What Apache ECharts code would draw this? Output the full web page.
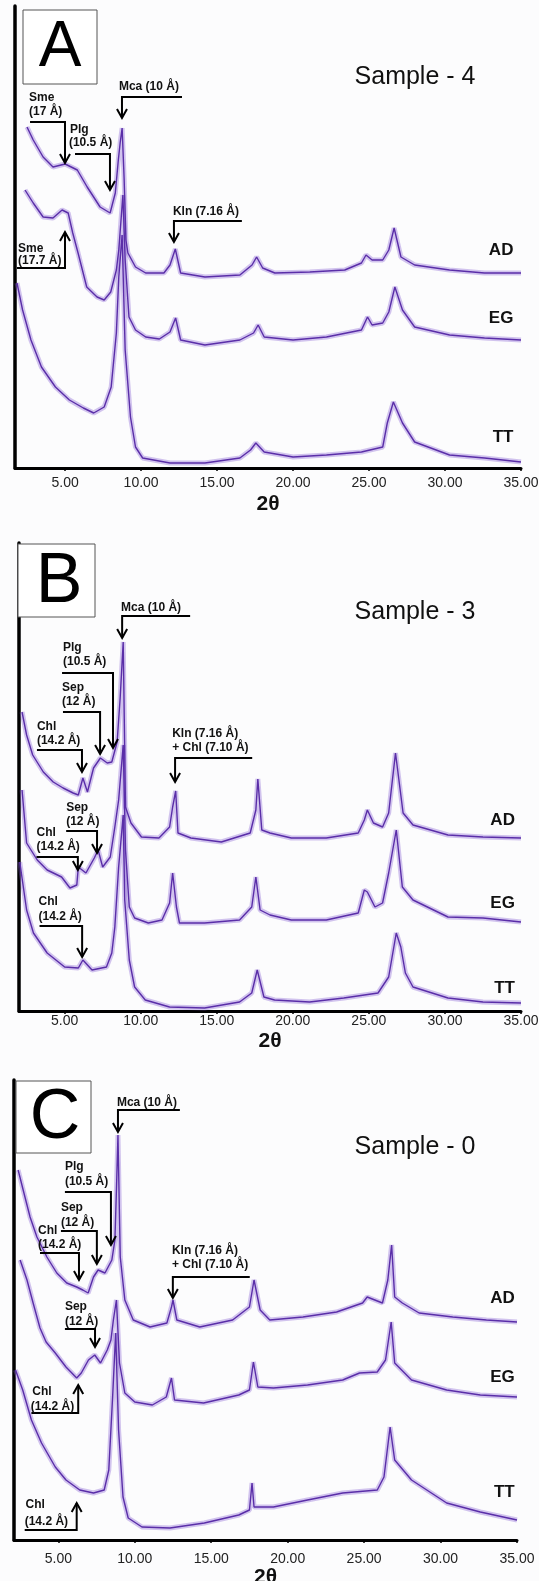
<!DOCTYPE html>
<html><head><meta charset="utf-8">
<script src="https://cdn.jsdelivr.net/npm/echarts@6/dist/echarts.min.js"></script>
<style>html,body{margin:0;padding:0;background:#fcfcfd}#c{width:539px;height:1581px}</style>
</head><body><div id="c"></div>
<script>
// ---- tick labels (2θ) ----
const xTicks = [5, 10, 15, 20, 25, 30, 35];

// ---- Panel A (Sample - 4): [2θ, intensity] ----
const A_AD = [[2.49,341],[2.9,328],[3.55,311],[4.2,301],[5.0,304],[5.8,298],[6.45,281],[7.3,261],[7.96,255],[8.3,275],[8.5,308],[8.62,325],[8.75,340],[8.88,290],[9.0,228],[9.13,215],[9.63,201],[10.3,195],[11.5,195],[11.9,203],[12.25,219],[12.6,195],[14.2,191],[16.5,193],[17.3,203],[17.6,211],[18.0,200],[18.8,195],[21.1,196],[23.4,198],[24.5,205],[24.8,213],[25.2,208],[25.9,208],[26.3,218],[26.65,240],[27.1,211],[28,203],[30.3,198],[32.6,195],[35,195]];
const A_EG = [[2.36,278],[2.9,265],[3.55,251],[4.2,250],[4.8,258],[5.2,255],[5.5,235],[5.85,215],[6.42,181],[7.1,171],[7.57,168],[8.0,176],[8.37,198],[8.53,218],[8.8,273],[8.95,208],[9.2,151],[9.63,138],[10.3,131],[11.2,129],[11.9,136],[12.27,150],[12.6,128],[14.2,123],[16.5,128],[17.4,135],[17.7,143],[18.1,131],[20,128],[22.2,131],[24.5,138],[24.9,151],[25.2,143],[25.9,145],[26.3,156],[26.7,181],[27.2,158],[28,141],[30.3,133],[32.6,130],[35,128]];
const A_TT = [[1.83,185],[2.2,158],[2.75,128],[3.44,101],[4.36,81],[5.28,68],[6.2,60],[6.88,55],[7.57,61],[8.03,81],[8.37,135],[8.53,191],[8.75,233],[8.95,118],[9.3,51],[9.63,21],[10.1,10],[11.9,5],[14.2,5],[16.5,10],[17.2,18],[17.55,25],[18.1,16],[20,11],[22.2,13],[24.5,16],[25.9,21],[26.2,45],[26.6,66],[27.2,45],[28,26],[30.3,13],[32.6,10],[35,6]];

// ---- Panel B (Sample - 3) ----
const B_AD = [[2.2,299],[2.5,276],[2.9,256],[3.6,239],[4.25,229],[4.9,223],[5.56,218],[5.9,216],[6.2,233],[6.5,219],[6.9,243],[7.35,253],[7.8,248],[8.1,249],[8.45,269],[8.65,313],[8.85,369],[9.0,204],[9.36,188],[10.05,174],[11.2,173],[11.9,184],[12.1,204],[12.3,220],[12.45,178],[13.3,173],[15.3,169],[17.2,178],[17.57,201],[17.7,232],[17.96,181],[18.5,178],[19.9,173],[22.2,173],[24.3,178],[24.7,191],[24.9,201],[25.3,188],[25.9,184],[26.3,198],[26.75,258],[27.25,198],[27.9,186],[30.2,176],[32.5,174],[35,173]];
const B_EG = [[2.2,221],[2.5,168],[3.2,151],[3.85,141],[4.8,134],[5.35,123],[5.8,126],[5.9,144],[6.4,138],[6.95,153],[7.2,161],[7.5,144],[8.0,154],[8.3,184],[8.55,211],[8.85,266],[9.0,161],[9.25,104],[9.6,93],[10.5,88],[11.4,91],[11.9,108],[12.1,138],[12.35,104],[12.55,88],[14.2,88],[16.5,91],[17.3,104],[17.57,134],[17.85,101],[18.5,96],[19.9,91],[22.2,91],[24.3,98],[24.7,121],[24.9,119],[25.4,104],[25.9,108],[26.3,138],[26.8,181],[27.2,124],[27.9,111],[30.2,94],[32.5,93],[35,89]];
const B_TT = [[2.05,149],[2.5,101],[2.95,78],[3.85,58],[5.0,44],[5.9,43],[6.2,51],[6.8,41],[7.75,44],[8.1,58],[8.3,84],[8.55,144],[8.85,196],[8.95,111],[9.25,51],[9.6,24],[10.3,11],[11.9,4],[14.2,3],[16.5,9],[17.3,18],[17.66,41],[18.1,14],[18.8,11],[21.1,9],[23.35,13],[25.6,18],[26.3,34],[26.8,78],[27.1,64],[27.4,38],[27.9,24],[30.2,13],[32.5,9],[35,8]];

// ---- Panel C (Sample - 0) ----
const C_AD = [[2.37,370],[2.7,350],[3.15,323],[3.6,303],[4.25,283],[4.9,267],[5.55,257],[6.2,253],[6.6,250],[6.95,247],[7.3,263],[7.6,270],[8.05,267],[8.5,280],[8.7,300],[8.8,350],[8.9,405],[9.05,283],[9.35,240],[9.9,220],[11.0,213],[12.1,217],[12.4,233],[12.5,240],[12.75,220],[14.25,213],[16.4,220],[17.5,233],[17.8,260],[18.2,230],[18.83,220],[21,223],[23.2,228],[24.9,237],[25.2,243],[26.2,237],[26.55,260],[26.8,295],[27.0,243],[27.5,237],[28.6,227],[30.8,223],[33,220],[35,218]];
const C_EG = [[2.5,280],[2.95,260],[3.35,237],[3.8,212],[4.2,198],[4.8,187],[5.5,173],[6.2,162],[6.5,167],[6.97,180],[7.38,185],[7.76,177],[8.2,190],[8.44,200],[8.6,220],[8.8,240],[9.0,177],[9.35,147],[10.0,138],[11.15,135],[12.06,143],[12.4,162],[12.6,140],[14.5,137],[16.8,145],[17.5,150],[17.76,178],[18.05,153],[19.07,152],[21.3,155],[23.6,160],[24.7,167],[25.86,168],[26.4,180],[26.77,218],[27.0,177],[28.1,160],[30.4,150],[32.6,145],[35,143]];
const C_TT = [[2.2,170],[2.67,150],[3.24,120],[3.9,97],[4.8,73],[5.5,60],[6.4,50],[7.3,47],[8.0,50],[8.3,70],[8.55,143],[8.75,207],[8.94,110],[9.23,43],[9.57,22],[10.47,13],[12.3,12],[14.55,17],[16.8,25],[17.5,30],[17.67,57],[17.8,33],[19.07,33],[21.3,40],[23.6,47],[25.86,50],[26.3,63],[26.7,113],[27.0,80],[28.1,60],[30.4,37],[32.6,28],[35,20]];

// ---- trace names ----
const traceNames = ['AD', 'EG', 'TT'];
const A_tags = [[34.5,218],[34.5,150],[34.5,31]];
const B_tags = [[34.6,191],[34.6,108],[34.6,23]];
const C_tags = [[34.85,242],[34.85,163],[34.85,48]];

// ---- annotations: text lines, text anchors and arrow path [2θ, intensity] ----
const A_notes = [
  {lines:['Mca (10 Å)'], at:[[8.54,381]], path:[[12.69,371],[8.74,371],[8.74,350]]},
  {lines:['Sme','(17 Å)'], at:[[2.62,370],[2.62,356]], path:[[2.69,346],[4.99,346],[4.99,305]]},
  {lines:['Plg','(10.5 Å)'], at:[[5.32,338],[5.25,325]], path:[[5.65,314],[7.95,314],[7.95,278]]},
  {lines:['Kln (7.16 Å)'], at:[[12.09,256]], path:[[16.63,247],[12.16,247],[12.16,226]]},
  {lines:['Sme','(17.7 Å)'], at:[[1.9,219],[1.9,207]], path:[[1.83,200],[4.99,200],[4.99,236]]}
];
const B_notes = [
  {lines:['Mca (10 Å)'], at:[[8.71,403]], path:[[13.25,395],[8.78,395],[8.78,373]]},
  {lines:['Plg','(10.5 Å)'], at:[[4.89,363],[4.89,349]], path:[[4.83,338],[8.18,338],[8.18,263]]},
  {lines:['Sep','(12 Å)'], at:[[4.83,323],[4.83,309]], path:[[4.89,299],[7.33,299],[7.33,257]]},
  {lines:['Chl','(14.2 Å)'], at:[[3.18,284],[3.18,270]], path:[[3.18,261],[6.14,261],[6.14,239]]},
  {lines:['Kln (7.16 Å)','+ Chl (7.10 Å)'], at:[[12.07,277],[12.07,263]], path:[[17.33,253],[12.26,253],[12.26,229]]},
  {lines:['Sep','(12 Å)'], at:[[5.1,203],[5.1,189]], path:[[5.1,180],[7.13,180],[7.13,158]]},
  {lines:['Chl','(14.2 Å)'], at:[[3.15,178],[3.15,164]], path:[[3.15,154],[5.87,154],[5.87,141]]},
  {lines:['Chl','(14.2 Å)'], at:[[3.28,109],[3.28,94]], path:[[3.35,85],[6.15,85],[6.15,54]]}
];
const C_notes = [
  {lines:['Mca (10 Å)'], at:[[8.83,437]], path:[[12.95,430],[8.9,430],[8.9,408]]},
  {lines:['Plg','(10.5 Å)'], at:[[5.43,373],[5.43,358]], path:[[5.43,348],[8.44,348],[8.44,295]]},
  {lines:['Sep','(12 Å)'], at:[[5.17,332],[5.17,317]], path:[[5.17,309],[7.52,309],[7.52,276]]},
  {lines:['Chl','(14.2 Å)'], at:[[3.67,309],[3.67,295]], path:[[3.8,287],[6.35,287],[6.35,260]]},
  {lines:['Kln (7.16 Å)','+ Chl (7.10 Å)'], at:[[12.43,289],[12.43,275]], path:[[17.52,263],[12.49,263],[12.49,242]]},
  {lines:['Sep','(12 Å)'], at:[[5.43,233],[5.43,218]], path:[[5.43,211],[7.4,211],[7.4,193]]},
  {lines:['Chl','(14.2 Å)'], at:[[3.3,148],[3.2,133]], path:[[3.24,127],[6.3,127],[6.3,155]]},
  {lines:['Chl','(14.2 Å)'], at:[[2.85,35],[2.8,18]], path:[[2.8,10],[6.2,10],[6.2,37]]}
];

const FONT = '"Liberation Sans", Arial, sans-serif';
const TRACE = '#5a2ea8';

const panels = [
  {grid:{left:15, right:18, top:6, height:462}, xmin:1.7, ymax:462, gap:26, lmargin:8, traces:[A_AD,A_EG,A_TT], tags:A_tags, notes:A_notes},
  {grid:{left:19, right:18, top:543, height:468}, xmin:2.0, ymax:468, gap:20, lmargin:3, traces:[B_AD,B_EG,B_TT], tags:B_tags, notes:B_notes},
  {grid:{left:14, right:22, top:1080, height:460}, xmin:2.1, ymax:460, gap:27, lmargin:12, traces:[C_AD,C_EG,C_TT], tags:C_tags, notes:C_notes}
];

const grids = [], xAxes = [], yAxes = [], series = [];
panels.forEach((p, i) => {
  grids.push(Object.assign({containLabel:false, outerBoundsMode:'none'}, p.grid));
  xAxes.push({
    type:'value', gridIndex:i, min:p.xmin, max:35,
    name:'2θ', nameLocation:'middle', nameGap:p.gap,
    nameTextStyle:{fontFamily:FONT, fontWeight:'bold', fontSize:21, color:'#111'},
    axisLine:{show:true, onZero:false, lineStyle:{color:'#000', width:3}},
    axisTick:{show:true, customValues:xTicks, length:3, lineStyle:{color:'#000', width:1.5}},
    axisLabel:{customValues:xTicks, margin:p.lmargin, fontFamily:FONT, fontSize:14, color:'#222', formatter:v => v.toFixed(2)},
    splitLine:{show:false}
  });
  yAxes.push({
    type:'value', gridIndex:i, min:0, max:p.ymax,
    axisLine:{show:true, onZero:false, lineStyle:{color:'#000', width:3.5}},
    axisTick:{show:false}, axisLabel:{show:false}, splitLine:{show:false}
  });
  p.traces.forEach((d, k) => {
    series.push({
      type:'line', xAxisIndex:i, yAxisIndex:i, data:d,
      showSymbol:false, silent:true, clip:false, z:1,
      lineStyle:{color:'rgba(130,90,210,0.35)', width:5}
    });
    series.push({
      type:'line', name:traceNames[k], xAxisIndex:i, yAxisIndex:i, data:d,
      showSymbol:false, silent:true, clip:false, z:2,
      lineStyle:{color:TRACE, width:1.4}
    });
  });
  series.push({
    type:'custom', xAxisIndex:i, yAxisIndex:i, silent:true, clip:false, z:5,
    data:p.tags.map(t => [t[0], t[1]]),
    renderItem:function(params, api){
      const c = api.coord([api.value(0), api.value(1)]);
      return {type:'text', x:c[0], y:c[1], style:{text:traceNames[params.dataIndex], font:'bold 17px ' + FONT, fill:'#111', align:'right', verticalAlign:'middle'}};
    }
  });
  const notes = p.notes;
  series.push({
    type:'custom', xAxisIndex:i, yAxisIndex:i, silent:true, clip:false, z:6,
    data:notes.map(n => n.path[n.path.length-1]),
    renderItem:function(params, api){
      const n = notes[params.dataIndex];
      const pts = n.path.map(q => api.coord(q));
      const tip = pts[pts.length-1], prev = pts[pts.length-2];
      const dir = tip[1] > prev[1] ? 1 : -1;
      const ch = [
        {type:'polyline', shape:{points:pts}, style:{stroke:'#000', lineWidth:2, fill:null}},
        {type:'polyline', shape:{points:[[tip[0]-5, tip[1]-9*dir],[tip[0], tip[1]],[tip[0]+5, tip[1]-9*dir]]}, style:{stroke:'#000', lineWidth:2, fill:null}}
      ];
      n.lines.forEach((t, j) => {
        const c = api.coord(n.at[j]);
        ch.push({type:'text', x:c[0], y:c[1], style:{text:t, font:'bold 12px ' + FONT, fill:'#111', align:'left', verticalAlign:'middle'}});
      });
      return {type:'group', children:ch};
    }
  });
});

const graphic = [
  {type:'rect', shape:{x:23, y:10, width:74, height:74}, style:{fill:'#fff', stroke:'#555', lineWidth:1}, z:1},
  {type:'text', x:60, y:48, style:{text:'A', font:'64px ' + FONT, fill:'#000', align:'center', verticalAlign:'middle'}, z:2},
  {type:'rect', shape:{x:18, y:544, width:77, height:73}, style:{fill:'#fff', stroke:'#555', lineWidth:1}, z:1},
  {type:'text', x:59, y:583, style:{text:'B', font:'70px ' + FONT, fill:'#000', align:'center', verticalAlign:'middle'}, z:2},
  {type:'rect', shape:{x:16, y:1081, width:75, height:72}, style:{fill:'#fff', stroke:'#555', lineWidth:1}, z:1},
  {type:'text', x:55, y:1119, style:{text:'C', font:'70px ' + FONT, fill:'#000', align:'center', verticalAlign:'middle'}, z:2},
  {type:'text', x:415, y:77, style:{text:'Sample - 4', font:'25px ' + FONT, fill:'#111', align:'center', verticalAlign:'middle'}},
  {type:'text', x:415, y:612, style:{text:'Sample - 3', font:'25px ' + FONT, fill:'#111', align:'center', verticalAlign:'middle'}},
  {type:'text', x:415, y:1147, style:{text:'Sample - 0', font:'25px ' + FONT, fill:'#111', align:'center', verticalAlign:'middle'}}
];

const chart = echarts.init(document.getElementById('c'), null, {renderer:'canvas'});
chart.setOption({
  backgroundColor:'#fcfcfd', animation:false,
  grid:grids, xAxis:xAxes, yAxis:yAxes, series:series, graphic:graphic
});
</script></body></html>
